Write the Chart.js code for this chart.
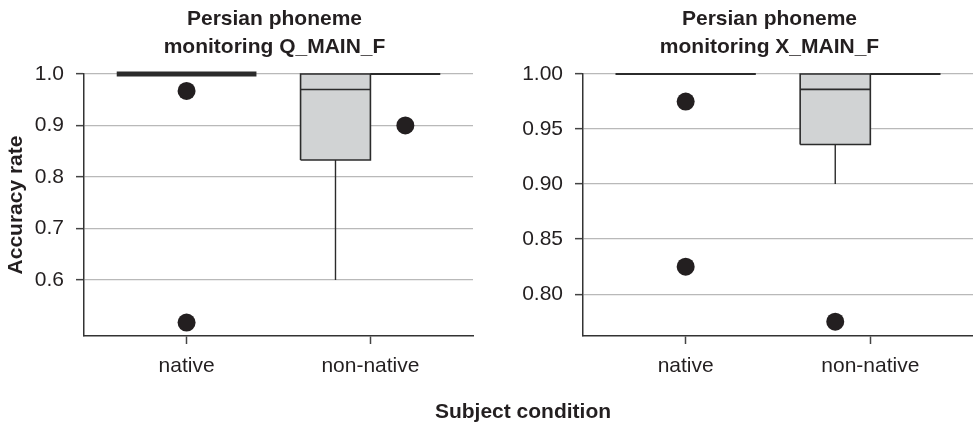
<!DOCTYPE html>
<html>
<head>
<meta charset="utf-8">
<script src="https://cdn.jsdelivr.net/npm/chart.js@4.4.1/dist/chart.umd.min.js"></script>
<style>
  html, body { margin: 0; padding: 0; background: #fff; overflow: hidden; width: 973px; height: 425px; }
  .panel { position: absolute; top: 0; }
  #xtitle {
    position: absolute; left: 373px; width: 300px; top: 399px;
    text-align: center; line-height: 24px; color: #231f20;
    font: bold 21px 'Liberation Sans', Arial, Helvetica, sans-serif;
  }
</style>
</head>
<body>
<div class="panel" style="left:0px"><canvas id="qChart" width="549" height="425"></canvas></div>
<div class="panel" style="left:520px"><canvas id="xChart" width="499" height="425"></canvas></div>
<div id="xtitle">Subject condition</div>

<script>
// Subject groups on the x axis
const categories = ['native', 'non-native'];

// Q_MAIN_F accuracy: box statistics per group
const qLowerHinge   = [1.00, 0.833];
const qMedian       = [1.00, 0.970];
const qUpperHinge   = [1.00, 1.00];
const qLowerWhisker = [1.00, 0.60];
const qOutliers     = [[0.967, 0.517], [0.90]];
const qTicks        = [0.6, 0.7, 0.8, 0.9, 1.0];

// X_MAIN_F accuracy: box statistics per group
const xLowerHinge   = [1.00, 0.936];
const xMedian       = [1.00, 0.986];
const xUpperHinge   = [1.00, 1.00];
const xLowerWhisker = [1.00, 0.90];
const xOutliers     = [[0.975, 0.825], [0.775]];
const xTicks        = [0.80, 0.85, 0.90, 0.95, 1.00];

const FONT = "'Liberation Sans', Arial, Helvetica, sans-serif";
const INK = '#231f20';
const BOX_FILL = '#d1d3d4';
const HALF = 0.38;   // half width of a box, in category units

function segment(points, width, order) {
  return {
    data: points, showLine: true, borderColor: '#2b2b2b', borderWidth: width,
    pointRadius: 0, pointHoverRadius: 0, tension: 0, fill: false, clip: false, order: order
  };
}

function buildDatasets(lo, med, hi, wLo, outliers, outlierShift, flatWidth) {
  const sets = [];
  categories.forEach((_, i) => {
    const c = i + 1;
    if (lo[i] < hi[i]) {
      // shaded box on the left half
      sets.push({
        data: [{ x: c - HALF, y: hi[i] }, { x: c, y: hi[i] }],
        showLine: true, borderWidth: 0, pointRadius: 0, backgroundColor: BOX_FILL,
        fill: { value: lo[i] }, clip: false, order: 5
      });
      sets.push(segment([
        { x: c - HALF, y: lo[i] }, { x: c - HALF, y: hi[i] }, { x: c, y: hi[i] },
        { x: c, y: lo[i] }, { x: c - HALF, y: lo[i] }
      ], 1.6, 3));
      sets.push(segment([{ x: c - HALF, y: med[i] }, { x: c, y: med[i] }], 1.6, 3));
      sets.push(segment([{ x: c - HALF / 2, y: lo[i] }, { x: c - HALF / 2, y: wLo[i] }], 1.4, 3));
      // collapsed box on the right half
      sets.push(segment([{ x: c, y: hi[i] }, { x: c + HALF, y: hi[i] }], 2, 3));
    } else {
      sets.push(segment([{ x: c - HALF, y: hi[i] }, { x: c + HALF, y: hi[i] }], flatWidth, 3));
    }
    sets.push({
      data: outliers[i].map(v => ({ x: c + outlierShift[i], y: v })),
      pointRadius: 9, pointHoverRadius: 9, backgroundColor: INK, borderWidth: 0,
      showLine: false, clip: false, order: 1
    });
  });
  return sets;
}

function makeChart(id, cfg) {
  const yScale = {
    type: 'linear', position: 'left', min: cfg.yMin, max: 1.0,
    afterBuildTicks: a => { a.ticks = cfg.ticks.map(v => ({ value: v })); },
    ticks: { callback: v => v.toFixed(cfg.decimals), font: { size: 21, family: FONT }, color: INK, padding: 12 },
    grid: { color: '#b9b9b9', lineWidth: 1.3, tickLength: 8, tickColor: '#444', tickWidth: 1.5 },
    border: { color: '#333', width: 1.5 },
    afterFit: s => { s.width = cfg.leftWidth; }
  };
  if (cfg.yTitle) {
    yScale.title = {
      display: true, text: cfg.yTitle, color: INK,
      font: { size: 21, weight: 'bold', family: FONT }, padding: { top: 3.6, bottom: 0 }
    };
  }
  return new Chart(document.getElementById(id), {
    type: 'scatter',
    data: { datasets: cfg.datasets },
    options: {
      responsive: false, animation: false,
      layout: { padding: 0 },
      plugins: {
        legend: { display: false }, tooltip: { enabled: false },
        title: {
          display: true, text: cfg.title, color: INK,
          font: { size: 21, weight: 'bold', family: FONT, lineHeight: 1.3 },
          padding: { top: 6, bottom: 13.4 }
        }
      },
      scales: {
        x: {
          type: 'linear', min: cfg.xMin, max: cfg.xMax,
          afterBuildTicks: a => { a.ticks = categories.map((_, i) => ({ value: i + 1 })); },
          ticks: { callback: v => categories[v - 1], font: { size: 21, family: FONT }, color: INK,
                   padding: 9.5, autoSkip: false, maxRotation: 0 },
          grid: { drawOnChartArea: false, tickLength: 8, tickColor: '#444', tickWidth: 1.5 },
          border: { color: '#333', width: 1.5 },
          afterFit: s => { s.height = 89; }
        },
        y: yScale,
        gutter: {
          type: 'linear', axis: 'y', position: 'right', display: true,
          ticks: { display: false }, grid: { display: false }, border: { display: false },
          afterFit: s => { s.width = cfg.rightWidth; }
        }
      }
    }
  });
}

makeChart('qChart', {
  title: ['Persian phoneme', 'monitoring Q_MAIN_F'],
  yTitle: 'Accuracy rate',
  yMin: 0.491, ticks: qTicks, decimals: 1,
  xMin: 0.442, xMax: 2.558,
  leftWidth: 84, rightWidth: 76,
  datasets: buildDatasets(qLowerHinge, qMedian, qUpperHinge, qLowerWhisker, qOutliers, [0, HALF / 2], 5)
});

makeChart('xChart', {
  title: ['Persian phoneme', 'monitoring X_MAIN_F'],
  yTitle: null,
  yMin: 0.762, ticks: xTicks, decimals: 2,
  xMin: 0.444, xMax: 2.556,
  leftWidth: 63, rightWidth: 46,
  datasets: buildDatasets(xLowerHinge, xMedian, xUpperHinge, xLowerWhisker, xOutliers, [0, -HALF / 2], 2)
});
</script>
</body>
</html>
